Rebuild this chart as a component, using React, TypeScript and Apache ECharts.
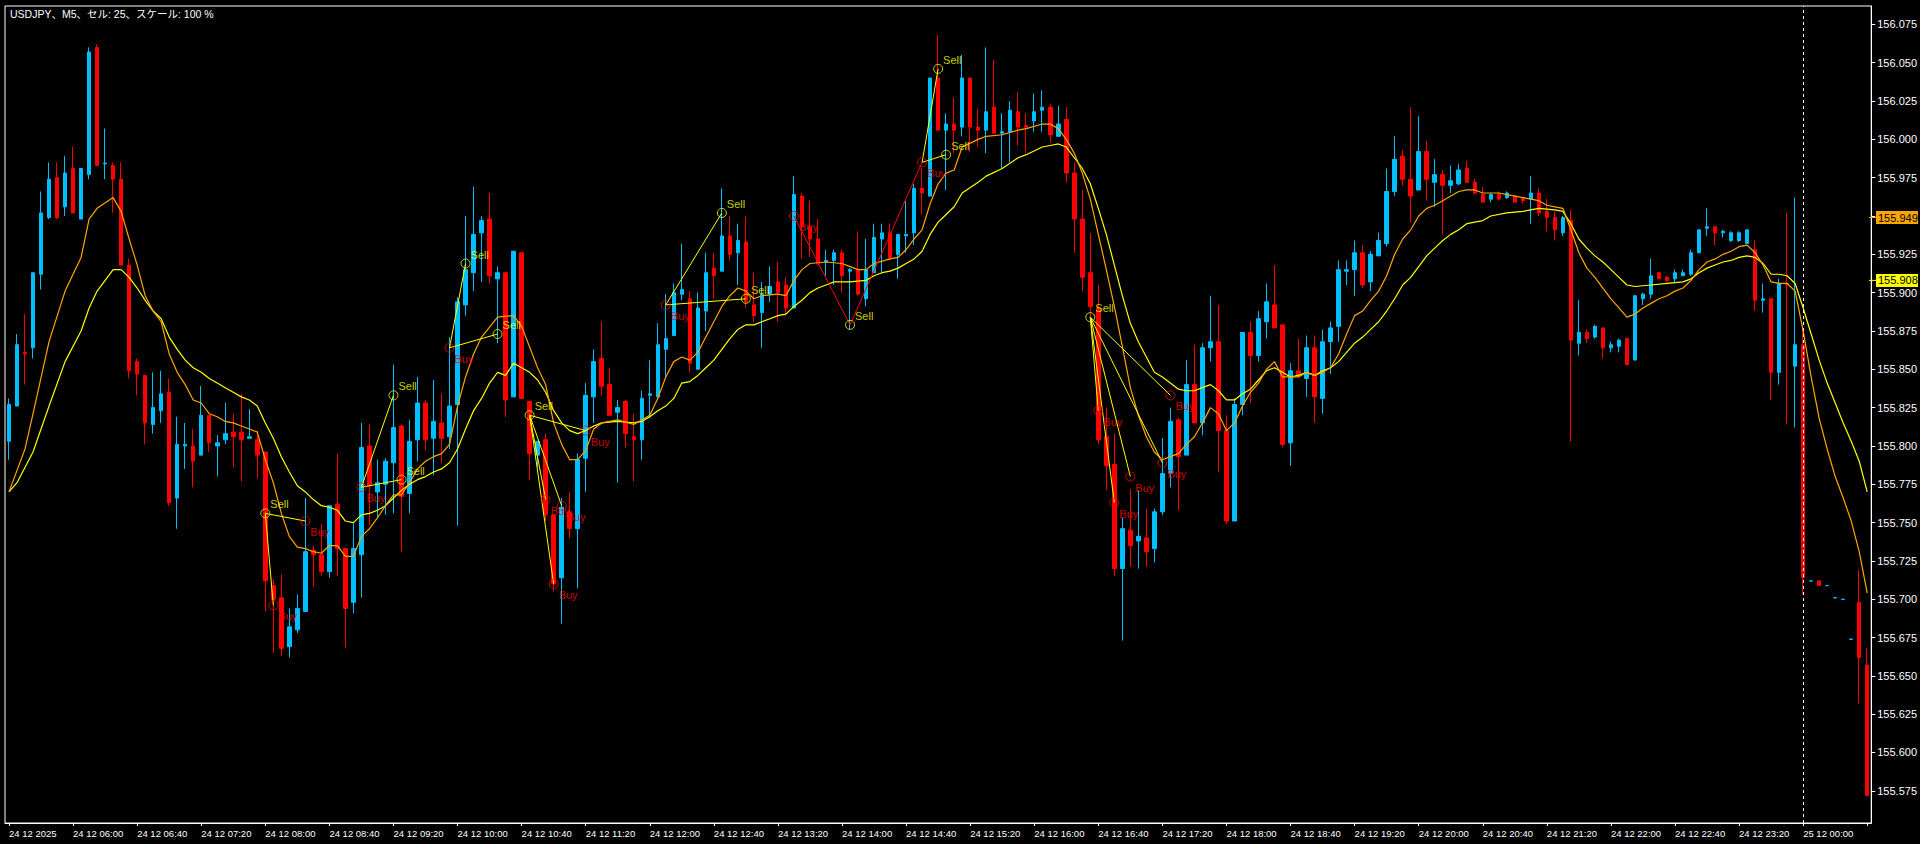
import React, { useEffect, useRef } from "react";
import * as echarts from "echarts";

const titleText = "USDJPY、M5、セル: 25、スケール: 100 %";

const xTickLabels = [
  "24 12 2025", "24 12 06:00", "24 12 06:40", "24 12 07:20", "24 12 08:00", "24 12 08:40",
  "24 12 09:20", "24 12 10:00", "24 12 10:40", "24 12 11:20", "24 12 12:00", "24 12 12:40",
  "24 12 13:20", "24 12 14:00", "24 12 14:40", "24 12 15:20", "24 12 16:00", "24 12 16:40",
  "24 12 17:20", "24 12 18:00", "24 12 18:40", "24 12 19:20", "24 12 20:00", "24 12 20:40",
  "24 12 21:20", "24 12 22:00", "24 12 22:40", "24 12 23:20", "25 12 00:00",
];

const yTicks = [
  155.575, 155.6, 155.625, 155.65, 155.675, 155.7, 155.725, 155.75, 155.775, 155.8, 155.825,
  155.85, 155.875, 155.9, 155.925, 155.95, 155.975, 156.0, 156.025, 156.05, 156.075,
];

// [open, close, low, high]
const candles = [
  [155.803, 155.827, 155.791, 155.831], [155.826, 155.866, 155.826, 155.873], [155.861, 155.860, 155.840, 155.886],
  [155.864, 155.913, 155.857, 155.913], [155.912, 155.952, 155.902, 155.966], [155.949, 155.974, 155.948, 155.985],
  [155.975, 155.949, 155.948, 155.985], [155.956, 155.978, 155.950, 155.989], [155.981, 155.952, 155.952, 155.995],
  [155.948, 155.981, 155.948, 155.981], [155.977, 156.057, 155.974, 156.060], [156.060, 155.983, 155.983, 156.062],
  [155.984, 155.9845, 155.974, 156.007], [155.983, 155.974, 155.952, 155.985], [155.974, 155.918, 155.918, 155.985],
  [155.918, 155.849, 155.844, 155.922], [155.855, 155.847, 155.833, 155.857], [155.846, 155.815, 155.801, 155.846],
  [155.814, 155.825, 155.808, 155.848], [155.823, 155.834, 155.815, 155.849], [155.835, 155.763, 155.761, 155.844],
  [155.766, 155.801, 155.746, 155.819], [155.800, 155.801, 155.785, 155.815], [155.800, 155.790, 155.773, 155.811],
  [155.794, 155.820, 155.794, 155.839], [155.820, 155.802, 155.796, 155.820], [155.800, 155.802, 155.780, 155.807],
  [155.804, 155.808, 155.801, 155.828], [155.809, 155.806, 155.786, 155.821], [155.809, 155.804, 155.777, 155.834],
  [155.805, 155.806, 155.805, 155.824], [155.804, 155.794, 155.779, 155.810], [155.796, 155.712, 155.692, 155.796],
  [155.709, 155.700, 155.665, 155.713], [155.701, 155.668, 155.663, 155.716], [155.669, 155.682, 155.662, 155.694],
  [155.680, 155.694, 155.678, 155.703], [155.692, 155.731, 155.692, 155.766], [155.732, 155.729, 155.708, 155.735],
  [155.729, 155.718, 155.715, 155.749], [155.718, 155.761, 155.714, 155.761], [155.762, 155.733, 155.715, 155.795],
  [155.733, 155.694, 155.668, 155.733], [155.698, 155.733, 155.691, 155.750], [155.729, 155.799, 155.701, 155.815],
  [155.800, 155.774, 155.748, 155.814], [155.770, 155.776, 155.753, 155.791], [155.775, 155.790, 155.755, 155.792],
  [155.789, 155.812, 155.756, 155.853], [155.813, 155.767, 155.731, 155.814], [155.769, 155.803, 155.756, 155.817],
  [155.804, 155.828, 155.790, 155.845], [155.828, 155.804, 155.797, 155.830], [155.805, 155.816, 155.781, 155.843],
  [155.815, 155.805, 155.789, 155.834], [155.806, 155.826, 155.798, 155.871], [155.827, 155.894, 155.748, 155.897],
  [155.892, 155.915, 155.885, 155.950], [155.913, 155.938, 155.901, 155.969], [155.939, 155.947, 155.907, 155.950],
  [155.948, 155.911, 155.906, 155.965], [155.909, 155.913, 155.867, 155.917], [155.913, 155.830, 155.819, 155.913],
  [155.832, 155.927, 155.832, 155.927], [155.926, 155.831, 155.831, 155.926], [155.829, 155.795, 155.778, 155.829],
  [155.794, 155.803, 155.786, 155.803], [155.804, 155.755, 155.751, 155.808], [155.755, 155.710, 155.705, 155.755],
  [155.714, 155.760, 155.684, 155.766], [155.757, 155.746, 155.740, 155.770], [155.746, 155.791, 155.707, 155.795],
  [155.792, 155.833, 155.770, 155.841], [155.832, 155.855, 155.815, 155.863], [155.857, 155.839, 155.833, 155.881],
  [155.840, 155.820, 155.820, 155.851], [155.822, 155.825, 155.776, 155.830], [155.829, 155.808, 155.799, 155.830],
  [155.806, 155.804, 155.777, 155.821], [155.804, 155.831, 155.791, 155.836], [155.833, 155.834, 155.818, 155.856],
  [155.832, 155.866, 155.830, 155.880], [155.863, 155.870, 155.845, 155.899], [155.872, 155.900, 155.872, 155.906],
  [155.899, 155.902, 155.895, 155.932], [155.896, 155.854, 155.848, 155.901], [155.850, 155.890, 155.850, 155.900],
  [155.888, 155.913, 155.875, 155.926], [155.916, 155.911, 155.896, 155.926], [155.914, 155.937, 155.914, 155.968],
  [155.937, 155.925, 155.921, 155.950], [155.926, 155.934, 155.905, 155.945], [155.933, 155.894, 155.890, 155.950],
  [155.892, 155.885, 155.881, 155.913], [155.887, 155.899, 155.864, 155.907], [155.899, 155.904, 155.894, 155.917],
  [155.907, 155.900, 155.881, 155.920], [155.905, 155.890, 155.885, 155.910], [155.890, 155.964, 155.890, 155.976],
  [155.963, 155.943, 155.922, 155.965], [155.943, 155.935, 155.923, 155.960], [155.935, 155.919, 155.918, 155.948],
  [155.920, 155.921, 155.911, 155.928], [155.921, 155.926, 155.905, 155.928], [155.926, 155.911, 155.900, 155.928],
  [155.914, 155.915, 155.876, 155.916], [155.915, 155.899, 155.898, 155.940], [155.896, 155.915, 155.891, 155.935],
  [155.913, 155.936, 155.913, 155.945], [155.935, 155.939, 155.913, 155.945], [155.939, 155.923, 155.921, 155.945],
  [155.925, 155.938, 155.909, 155.938], [155.937, 155.938, 155.926, 155.960], [155.939, 155.968, 155.931, 155.971],
  [155.968, 155.965, 155.951, 155.981], [155.963, 156.040, 155.963, 156.040], [156.040, 156.006, 156.006, 156.068],
  [156.006, 156.010, 155.967, 156.017], [156.010, 156.006, 155.991, 156.027], [156.008, 156.040, 156.002, 156.055],
  [156.040, 156.008, 155.992, 156.040], [156.008, 156.006, 155.995, 156.020], [156.006, 156.018, 155.991, 156.060],
  [156.021, 156.004, 156.004, 156.052], [156.004, 156.005, 155.981, 156.017], [156.005, 156.019, 155.985, 156.025],
  [156.018, 156.008, 155.996, 156.031], [156.009, 156.008, 155.991, 156.017], [156.012, 156.018, 156.005, 156.030],
  [156.019, 156.021, 156.005, 156.032], [156.021, 156.003, 155.998, 156.023], [156.002, 156.010, 156.002, 156.022],
  [156.013, 155.978, 155.972, 156.021], [155.978, 155.948, 155.926, 155.985], [155.948, 155.910, 155.901, 155.967],
  [155.913, 155.891, 155.881, 155.939], [155.890, 155.804, 155.801, 155.905], [155.806, 155.787, 155.771, 155.825],
  [155.788, 155.720, 155.715, 155.808], [155.720, 155.746, 155.673, 155.753], [155.745, 155.735, 155.721, 155.772],
  [155.738, 155.741, 155.720, 155.771], [155.740, 155.731, 155.721, 155.759], [155.733, 155.757, 155.724, 155.759],
  [155.757, 155.782, 155.755, 155.805], [155.782, 155.816, 155.773, 155.825], [155.817, 155.793, 155.758, 155.818],
  [155.794, 155.840, 155.794, 155.856], [155.840, 155.815, 155.815, 155.866], [155.815, 155.864, 155.807, 155.867],
  [155.864, 155.868, 155.855, 155.898], [155.868, 155.810, 155.783, 155.892], [155.810, 155.751, 155.749, 155.820],
  [155.751, 155.827, 155.751, 155.831], [155.827, 155.874, 155.820, 155.874], [155.874, 155.859, 155.828, 155.881],
  [155.859, 155.883, 155.855, 155.888], [155.881, 155.894, 155.870, 155.906], [155.892, 155.877, 155.877, 155.918],
  [155.879, 155.801, 155.799, 155.879], [155.802, 155.849, 155.787, 155.854], [155.849, 155.846, 155.846, 155.870],
  [155.844, 155.864, 155.832, 155.872], [155.864, 155.832, 155.815, 155.872], [155.831, 155.868, 155.821, 155.876],
  [155.868, 155.877, 155.847, 155.881], [155.878, 155.915, 155.868, 155.921], [155.914, 155.915, 155.905, 155.921],
  [155.915, 155.926, 155.898, 155.934], [155.926, 155.905, 155.903, 155.931], [155.907, 155.925, 155.901, 155.927],
  [155.924, 155.934, 155.924, 155.939], [155.932, 155.966, 155.930, 155.981], [155.966, 155.987, 155.963, 156.002],
  [155.989, 155.974, 155.970, 155.993], [155.974, 155.963, 155.946, 156.021], [155.967, 155.992, 155.967, 156.015],
  [155.992, 155.974, 155.960, 155.999], [155.972, 155.977, 155.956, 155.987], [155.977, 155.970, 155.938, 155.980],
  [155.970, 155.973, 155.965, 155.983], [155.971, 155.980, 155.970, 155.984], [155.981, 155.972, 155.972, 155.986],
  [155.972, 155.965, 155.964, 155.974], [155.964, 155.959, 155.959, 155.969], [155.961, 155.964, 155.959, 155.965],
  [155.964, 155.961, 155.960, 155.966], [155.962, 155.965, 155.961, 155.966], [155.963, 155.959, 155.959, 155.963],
  [155.962, 155.960, 155.958, 155.962], [155.961, 155.965, 155.945, 155.976], [155.965, 155.952, 155.950, 155.968],
  [155.953, 155.949, 155.940, 155.961], [155.949, 155.941, 155.934, 155.953], [155.939, 155.949, 155.937, 155.950],
  [155.947, 155.869, 155.803, 155.954], [155.867, 155.874, 155.859, 155.895], [155.874, 155.870, 155.867, 155.876],
  [155.871, 155.878, 155.870, 155.879], [155.877, 155.864, 155.857, 155.877], [155.864, 155.866, 155.861, 155.868],
  [155.865, 155.869, 155.861, 155.870], [155.870, 155.853, 155.853, 155.870], [155.856, 155.898, 155.856, 155.898],
  [155.896, 155.899, 155.892, 155.900], [155.899, 155.911, 155.896, 155.922], [155.913, 155.909, 155.909, 155.913],
  [155.910, 155.908, 155.907, 155.911], [155.909, 155.913, 155.907, 155.915], [155.911, 155.913, 155.911, 155.915],
  [155.912, 155.926, 155.911, 155.928], [155.926, 155.941, 155.926, 155.941], [155.942, 155.943, 155.937, 155.955],
  [155.943, 155.939, 155.931, 155.943], [155.939, 155.940, 155.936, 155.941], [155.934, 155.939, 155.933, 155.940],
  [155.934, 155.939, 155.933, 155.940], [155.932, 155.941, 155.932, 155.941], [155.928, 155.895, 155.888, 155.934],
  [155.895, 155.896, 155.887, 155.906], [155.896, 155.848, 155.830, 155.896], [155.848, 155.906, 155.840, 155.909],
  [155.906, 155.905, 155.814, 155.952], [155.852, 155.866, 155.812, 155.962], [155.866, 155.714, 155.703, 155.878],
  [155.7118, 155.712, 155.7118, 155.712], [155.712, 155.709, 155.709, 155.712], [155.7088, 155.709, 155.7088, 155.709],
  [155.7008, 155.701, 155.7008, 155.701], [155.6998, 155.700, 155.6998, 155.700], [155.6738, 155.674, 155.6738, 155.674],
  [155.698, 155.662, 155.632, 155.719], [155.657, 155.572, 155.572, 155.668],
];

// orange (fast) moving average, [bar, value]
const fastMA = [
  [0, 155.770], [2, 155.798], [3, 155.821], [5, 155.868], [7, 155.901], [9, 155.923], [10, 155.948], [11, 155.955],
  [13, 155.962], [14, 155.953], [15, 155.935], [16, 155.918], [17, 155.898], [18, 155.888], [19, 155.881], [20, 155.860],
  [21, 155.848], [22, 155.840], [23, 155.830], [24, 155.828], [25, 155.821], [26, 155.819], [27, 155.816], [28, 155.815],
  [29, 155.813], [30, 155.811], [31, 155.809], [32, 155.791], [33, 155.776], [34, 155.756], [35, 155.741], [36, 155.734],
  [37, 155.733], [38, 155.731], [39, 155.730], [40, 155.735], [41, 155.735], [42, 155.728], [43, 155.728], [44, 155.741],
  [45, 155.746], [46, 155.753], [47, 155.761], [48, 155.768], [49, 155.768], [50, 155.776], [51, 155.785], [52, 155.790],
  [53, 155.793], [54, 155.795], [55, 155.801], [56, 155.826], [57, 155.845], [58, 155.860], [59, 155.871], [61, 155.884],
  [63, 155.885], [64, 155.878], [66, 155.851], [67, 155.840], [68, 155.815], [69, 155.801], [70, 155.791], [71, 155.791],
  [72, 155.797], [73, 155.811], [74, 155.815], [76, 155.817], [78, 155.814], [80, 155.820], [81, 155.831], [82, 155.845],
  [83, 155.855], [84, 155.858], [85, 155.856], [86, 155.861], [87, 155.871], [88, 155.881], [89, 155.891], [90, 155.898],
  [91, 155.903], [92, 155.901], [93, 155.896], [94, 155.898], [96, 155.899], [97, 155.898], [98, 155.908], [99, 155.915],
  [100, 155.919], [102, 155.920], [104, 155.919], [105, 155.917], [106, 155.915], [107, 155.915], [108, 155.919],
  [110, 155.922], [111, 155.923], [112, 155.928], [113, 155.935], [114, 155.941], [115, 155.958], [116, 155.971],
  [117, 155.978], [118, 155.980], [119, 155.995], [121, 156.000], [122, 156.002], [124, 156.003], [126, 156.006],
  [127, 156.007], [129, 156.010], [130, 156.010], [131, 156.007], [132, 156.000], [133, 155.991], [134, 155.978],
  [135, 155.961], [136, 155.938], [137, 155.915], [138, 155.891], [139, 155.865], [140, 155.838], [141, 155.820],
  [142, 155.806], [143, 155.796], [144, 155.791], [145, 155.793], [146, 155.795], [147, 155.801], [148, 155.806],
  [149, 155.815], [150, 155.825], [151, 155.821], [152, 155.810], [153, 155.815], [154, 155.826], [155, 155.835],
  [156, 155.841], [157, 155.850], [158, 155.855], [159, 155.845], [160, 155.845], [161, 155.845], [162, 155.848],
  [163, 155.846], [164, 155.848], [165, 155.851], [166, 155.860], [167, 155.873], [168, 155.885], [169, 155.888],
  [170, 155.895], [171, 155.901], [172, 155.911], [173, 155.925], [174, 155.935], [175, 155.941], [176, 155.950],
  [177, 155.955], [178, 155.957], [179, 155.960], [180, 155.963], [181, 155.966], [182, 155.967], [183, 155.967],
  [184, 155.965], [186, 155.965], [188, 155.963], [190, 155.961], [191, 155.960], [192, 155.957], [193, 155.956],
  [194, 155.955], [195, 155.941], [196, 155.926], [197, 155.916], [198, 155.910], [199, 155.903], [200, 155.896],
  [201, 155.890], [202, 155.884], [203, 155.886], [204, 155.890], [205, 155.893], [206, 155.896], [207, 155.898],
  [208, 155.901], [209, 155.903], [210, 155.908], [211, 155.915], [212, 155.920], [213, 155.922], [214, 155.925],
  [215, 155.927], [216, 155.930], [217, 155.931], [218, 155.926], [219, 155.918], [220, 155.907], [221, 155.906],
  [222, 155.906], [223, 155.901], [224, 155.875], [225, 155.845], [226, 155.818], [227, 155.798], [228, 155.780],
  [229, 155.766], [230, 155.751], [231, 155.731], [232, 155.704],
];

// yellow (slow) moving average, [bar, value]
const slowMA = [
  [0, 155.770], [1, 155.776], [3, 155.796], [5, 155.826], [7, 155.855], [9, 155.875], [10, 155.890], [11, 155.901],
  [12, 155.908], [13, 155.915], [14, 155.915], [15, 155.910], [16, 155.903], [17, 155.895], [18, 155.888], [19, 155.883],
  [20, 155.871], [21, 155.863], [22, 155.856], [23, 155.851], [24, 155.848], [25, 155.844], [26, 155.841], [27, 155.838],
  [28, 155.835], [29, 155.832], [30, 155.830], [31, 155.826], [32, 155.815], [33, 155.805], [34, 155.793], [35, 155.783],
  [36, 155.774], [37, 155.770], [38, 155.765], [39, 155.761], [40, 155.760], [41, 155.758], [42, 155.751], [43, 155.750],
  [44, 155.755], [45, 155.756], [46, 155.758], [47, 155.761], [48, 155.766], [49, 155.771], [50, 155.775], [51, 155.778],
  [52, 155.780], [53, 155.783], [54, 155.785], [55, 155.789], [56, 155.798], [57, 155.811], [58, 155.823], [59, 155.831],
  [60, 155.841], [61, 155.848], [62, 155.846], [63, 155.854], [64, 155.851], [65, 155.848], [66, 155.843], [67, 155.835],
  [68, 155.823], [69, 155.815], [70, 155.810], [71, 155.808], [72, 155.810], [73, 155.813], [74, 155.815], [76, 155.816],
  [78, 155.815], [79, 155.816], [80, 155.819], [81, 155.823], [82, 155.826], [83, 155.831], [84, 155.841], [85, 155.842],
  [86, 155.846], [87, 155.851], [88, 155.856], [89, 155.863], [90, 155.870], [91, 155.876], [92, 155.879], [93, 155.879],
  [94, 155.881], [95, 155.883], [96, 155.885], [97, 155.886], [98, 155.891], [99, 155.895], [100, 155.900], [101, 155.903],
  [102, 155.905], [103, 155.907], [105, 155.907], [107, 155.908], [108, 155.911], [109, 155.913], [110, 155.914],
  [111, 155.916], [112, 155.919], [113, 155.922], [114, 155.927], [115, 155.938], [116, 155.946], [117, 155.951],
  [118, 155.956], [119, 155.965], [121, 155.972], [122, 155.976], [124, 155.981], [126, 155.988], [127, 155.990],
  [129, 155.995], [130, 155.996], [131, 155.997], [132, 155.995], [133, 155.988], [134, 155.981], [135, 155.971],
  [136, 155.955], [137, 155.938], [138, 155.918], [139, 155.898], [140, 155.880], [141, 155.868], [142, 155.858],
  [143, 155.848], [144, 155.845], [145, 155.841], [146, 155.837], [147, 155.836], [148, 155.836], [149, 155.838],
  [150, 155.840], [151, 155.836], [152, 155.830], [153, 155.830], [154, 155.834], [155, 155.837], [156, 155.843],
  [157, 155.849], [158, 155.851], [159, 155.848], [160, 155.845], [161, 155.846], [162, 155.848], [163, 155.846],
  [164, 155.849], [165, 155.851], [166, 155.855], [167, 155.861], [168, 155.867], [169, 155.871], [170, 155.876],
  [171, 155.881], [172, 155.888], [173, 155.896], [174, 155.905], [175, 155.910], [176, 155.917], [177, 155.924],
  [178, 155.929], [179, 155.934], [180, 155.938], [181, 155.941], [182, 155.945], [183, 155.946], [184, 155.947],
  [185, 155.950], [187, 155.952], [189, 155.953], [191, 155.955], [193, 155.954], [194, 155.953], [195, 155.945],
  [196, 155.935], [197, 155.929], [198, 155.924], [199, 155.920], [200, 155.915], [201, 155.910], [202, 155.905],
  [203, 155.904], [205, 155.905], [207, 155.906], [209, 155.907], [210, 155.909], [211, 155.913], [212, 155.916],
  [213, 155.918], [214, 155.920], [215, 155.921], [216, 155.923], [217, 155.924], [218, 155.923], [219, 155.919],
  [220, 155.912], [221, 155.912], [222, 155.911], [223, 155.906], [224, 155.890], [225, 155.873], [226, 155.856],
  [227, 155.841], [228, 155.828], [229, 155.815], [230, 155.803], [231, 155.790], [232, 155.770],
];

const sellSignals = [
  [32, 155.756], [48, 155.833], [49, 155.778], [57, 155.919], [61, 155.873], [65, 155.820],
  [89, 155.952], [92, 155.896], [105, 155.879], [116, 156.046], [117, 155.990], [135, 155.884],
];

const buySignals = [
  [33, 155.696], [37, 155.751], [44, 155.773], [55, 155.864], [67, 155.765], [68, 155.710],
  [69, 155.761], [72, 155.810], [82, 155.892], [98, 155.950], [114, 155.985], [136, 155.823],
  [138, 155.763], [140, 155.780], [144, 155.789], [145, 155.833],
];

// [fromBar, fromPrice, toBar, toPrice]
const yellowLinks = [
  [32, 155.756, 33, 155.696], [32, 155.756, 37, 155.751], [44, 155.773, 48, 155.833], [44, 155.773, 49, 155.778],
  [55, 155.864, 57, 155.919], [55, 155.864, 61, 155.873], [65, 155.820, 67, 155.765], [65, 155.820, 68, 155.710],
  [65, 155.820, 69, 155.761], [65, 155.820, 72, 155.810], [82, 155.892, 89, 155.952], [82, 155.892, 92, 155.896],
  [114, 155.985, 116, 156.046], [114, 155.985, 117, 155.990], [135, 155.884, 136, 155.823], [135, 155.884, 138, 155.763],
  [135, 155.884, 140, 155.780], [135, 155.884, 144, 155.789], [135, 155.884, 145, 155.833],
];
const redLinks = [
  [98, 155.950, 105, 155.879], [105, 155.879, 114, 155.985],
];

const priceTags = [
  { value: 155.949, text: "155.949", bg: "#FFA500" },
  { value: 155.908, text: "155.908", bg: "#FFFF00" },
];

const currentBarIndex = 224;

const pad = (n: number) => (n < 10 ? "0" + n : "" + n);
const barTimes = candles.map((_, i) => {
  const m = 5 * 60 + 20 + 5 * i;
  const day = m >= 1440 ? 25 : 24;
  const mm = m % 1440;
  return `${day} 12 ${pad(Math.floor(mm / 60))}:${pad(mm % 60)}`;
});

const FONT = '"Liberation Sans", Arial, sans-serif';

export default function App() {
  const ref = useRef<HTMLDivElement>(null);
  useEffect(() => {
    if (!ref.current) return;
    const chart = echarts.init(ref.current, undefined, { renderer: "svg" });
    const option: any = {
      animation: false,
      backgroundColor: "#000000",
      grid: {
        left: 5, right: 48, top: 6, bottom: 21,
        show: true, borderColor: "#FFFFFF", borderWidth: 1, backgroundColor: "#000000",
      },
      xAxis: {
        type: "category",
        data: barTimes,
        boundaryGap: true,
        axisLine: { show: true, lineStyle: { color: "#FFFFFF", width: 1 } },
        axisTick: {
          show: true, alignWithLabel: true, length: 3,
          interval: (i: number) => i % 8 === 0,
          lineStyle: { color: "#FFFFFF" },
        },
        axisLabel: {
          interval: (i: number) => i % 8 === 0,
          formatter: (_v: string, i: number) => xTickLabels[Math.round(i / 8)] ?? "",
          align: "left",
          color: "#FFFFFF",
          fontSize: 9.5,
          fontFamily: FONT,
          margin: 5,
        },
        splitLine: { show: false },
      },
      yAxis: {
        type: "value",
        position: "right",
        min: 155.554,
        max: 156.087,
        axisLine: { show: true, lineStyle: { color: "#FFFFFF", width: 1 } },
        axisTick: { show: true, length: 4, lineStyle: { color: "#FFFFFF" }, customValues: yTicks },
        axisLabel: {
          customValues: yTicks,
          formatter: (v: number) => v.toFixed(3),
          color: "#FFFFFF",
          fontSize: 11,
          fontFamily: FONT,
          margin: 6,
        },
        splitLine: { show: false },
      },
      series: [
        {
          type: "candlestick",
          data: candles,
          barWidth: 4,
          z: 2,
          silent: true,
          itemStyle: {
            color: "#00BFFF", color0: "#FF0000",
            borderColor: "#00BFFF", borderColor0: "#FF0000", borderWidth: 1,
          },
          markLine: {
            silent: true,
            symbol: ["none", "none"],
            label: { show: false },
            lineStyle: { color: "#FFFFFF", type: [3, 3], width: 1 },
            data: [{ xAxis: barTimes[currentBarIndex] }],
          },
        },
        {
          type: "line", data: slowMA, showSymbol: false, symbol: "none", z: 3, silent: true,
          lineStyle: { color: "#FFFF00", width: 1.2 },
        },
        {
          type: "line", data: fastMA, showSymbol: false, symbol: "none", z: 3, silent: true,
          lineStyle: { color: "#FFA500", width: 1.2 },
        },
        {
          type: "lines", coordinateSystem: "cartesian2d", z: 4, silent: true,
          lineStyle: { color: "#FFFF00", width: 1, opacity: 1, curveness: 0 },
          data: yellowLinks.map((l) => ({ coords: [[l[0], l[1]], [l[2], l[3]]] })),
        },
        {
          type: "lines", coordinateSystem: "cartesian2d", z: 4, silent: true,
          lineStyle: { color: "#FF0000", width: 1, opacity: 1, curveness: 0 },
          data: redLinks.map((l) => ({ coords: [[l[0], l[1]], [l[2], l[3]]] })),
        },
        {
          type: "scatter", data: sellSignals, symbol: "circle", symbolSize: 9, z: 5, silent: true,
          itemStyle: { color: "rgba(0,0,0,0)", borderColor: "#FFFF00", borderWidth: 1 },
          label: {
            show: true, formatter: "Sell", position: "right", distance: 0, offset: [0, -9],
            color: "#FFFF00", fontSize: 11, fontFamily: FONT,
          },
        },
        {
          type: "scatter", data: buySignals, symbol: "circle", symbolSize: 9, z: 5, silent: true,
          itemStyle: { color: "rgba(0,0,0,0)", borderColor: "#FF0000", borderWidth: 1 },
          label: {
            show: true, formatter: "Buy", position: "right", distance: 0, offset: [0, 11],
            color: "#FF0000", fontSize: 11, fontFamily: FONT,
          },
        },
      ],
    };
    chart.setOption(option);

    const gridRight = 1920 - 48;
    const graphics: any[] = [
      {
        type: "text", left: 10, top: 9, silent: true,
        style: { text: titleText, fill: "#FFFFFF", fontSize: 10.5, fontFamily: '"Liberation Sans", "Noto Sans CJK JP", sans-serif' },
      },
    ];
    priceTags.forEach((t) => {
      const y = chart.convertToPixel({ yAxisIndex: 0 }, t.value) as number;
      graphics.push(
        { type: "line", silent: true, shape: { x1: gridRight - 3, y1: y, x2: gridRight + 5, y2: y }, style: { stroke: t.bg, lineWidth: 1 }, z: 10 },
        { type: "rect", silent: true, shape: { x: gridRight + 4, y: y - 6.5, width: 42, height: 13 }, style: { fill: t.bg }, z: 10 },
        {
          type: "text", silent: true, x: gridRight + 6, y: y, z: 11,
          style: { text: t.text, fill: "#000000", fontSize: 11, fontFamily: FONT, verticalAlign: "middle", align: "left" },
        }
      );
    });
    chart.setOption({ graphic: graphics });

    return () => chart.dispose();
  }, []);
  return (
    <div
      ref={ref}
      style={{ position: "fixed", left: 0, top: 0, width: 1920, height: 844, background: "#000" }}
    />
  );
}
